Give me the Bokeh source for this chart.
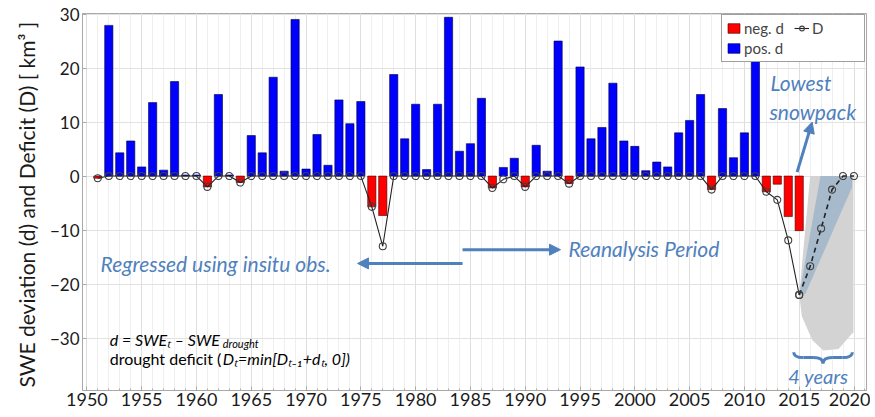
from bokeh.plotting import figure
from bokeh.models import (Range1d, SingleIntervalTicker, Label, Arrow, NormalHead,
                          Legend, LegendItem, ColumnDataSource)
from bokeh.embed import file_html
from bokeh.resources import INLINE

# ---------------- data ----------------
years = list(range(1951, 2016))
d_values = [-0.4, 27.9, 4.3, 6.5, 1.7, 13.6, 1.1, 17.5, 0.2, 0.2,    # 1951-1960
            -2.0, 15.1, 0.2, -1.2, 7.5, 4.3, 18.3, 0.9, 29.0, 1.3,   # 1961-1970
            7.7, 2.0, 14.1, 9.7, 13.8, -5.7, -7.3, 18.8, 6.9, 13.3,  # 1971-1980
            1.2, 13.3, 29.4, 4.6, 6.0, 14.4, -2.2, 1.6, 3.3, -2.0,   # 1981-1990
            5.7, 0.9, 25.0, -1.4, 20.2, 6.9, 9.0, 17.2, 6.5, 5.5,    # 1991-2000
            1.0, 2.6, 1.7, 8.0, 10.3, 15.1, -2.5, 12.5, 3.4, 8.0,    # 2001-2010
            21.7, -2.9, -1.5, -7.5, -10.1]                           # 2011-2015
D_values = [-0.4, 0, 0, 0, 0, 0, 0, 0, 0, 0,
            -2.0, 0, 0, -1.2, 0, 0, 0, 0, 0, 0,
            0, 0, 0, 0, 0, -5.7, -13.0, 0, 0, 0,
            0, 0, 0, 0, 0, 0, -2.2, -0.6, 0, -2.0,
            0, 0, 0, -1.4, 0, 0, 0, 0, 0, 0,
            0, 0, 0, 0, 0, 0, -2.5, 0, 0, 0,
            0, -2.9, -4.4, -11.9, -22.0]
proj_years = [2015, 2016, 2017, 2018, 2019, 2020]
proj_D = [-22.0, -16.7, -9.7, -2.5, 0, 0]

gray_x = [2016.0, 2015.0, 2015.25, 2016.2, 2017.2, 2018.6, 2019.8, 2019.95, 2019.95]
gray_y = [0, -22.0, -26.0, -30.4, -32.3, -32.0, -29.2, -29.0, 0]
blue_x = [2015.0, 2016.94, 2019.83, 2019.83, 2015.57]
blue_y = [-22.1, 0, 0, -2.0, -21.8]

x_tick_interval = 5
y_tick_interval = 10

ANN = "#4F81BD"
FONT = "Lato"

neg = ColumnDataSource(dict(x=[y for y, v in zip(years, d_values) if v < 0],
                            top=[v for v in d_values if v < 0]))
pos = ColumnDataSource(dict(x=[y for y, v in zip(years, d_values) if v >= 0],
                            top=[v for v in d_values if v >= 0]))

p = figure(width=870, height=416, x_range=Range1d(1949.6, 2021.14),
           y_range=Range1d(-39.7, 30.1), output_backend="svg", toolbar_location=None,
           min_border_left=82, min_border_right=4, min_border_top=13, min_border_bottom=26)
p.background_fill_color = "white"
p.border_fill_color = "white"
p.outline_line_color = "#a8a8a8"

xax = p.below[0]
yax = p.left[0]

xt = SingleIntervalTicker(interval=x_tick_interval, num_minor_ticks=5)
yt = SingleIntervalTicker(interval=y_tick_interval, num_minor_ticks=0)
xax.ticker = xt
yax.ticker = yt
p.xgrid.ticker = xt
p.ygrid.ticker = yt
p.xgrid.grid_line_color = "#dedede"
p.xgrid.minor_grid_line_color = "#efefef"
p.ygrid.grid_line_color = "#e2e2e2"

for ax in (xax, yax):
    ax.axis_line_color = "#a8a8a8"
    ax.major_tick_line_color = "#a8a8a8"
    ax.minor_tick_line_color = "#a8a8a8"
    ax.major_tick_in = 4
    ax.major_tick_out = 0
    ax.minor_tick_in = 2
    ax.minor_tick_out = 0
    ax.major_label_text_font = FONT
    ax.major_label_text_color = "#1a1a1a"
xax.major_label_text_font_size = "18px"
xax.major_label_standoff = 2
yax.major_label_text_font_size = "17px"
yax.major_label_standoff = 3
yax.axis_label = "SWE deviation (d) and Deficit (D)  [ km³ ]"
yax.axis_label_text_font = FONT
yax.axis_label_text_font_style = "normal"
yax.axis_label_text_font_size = "21px"
yax.axis_label_text_color = "#1a1a1a"
yax.axis_label_standoff = 8

# projection envelopes
p.patch(gray_x, gray_y, fill_color="#d3d3d3", line_color=None)
p.patch(blue_x, blue_y, fill_color="#6f9cc4", fill_alpha=0.45, line_color=None)

# bars
r_neg = p.vbar(x="x", top="top", bottom=0, width=0.75, source=neg,
               fill_color="#ff0000", line_color="#400000", line_width=0.6)
r_pos = p.vbar(x="x", top="top", bottom=0, width=0.75, source=pos,
               fill_color="#0000ff", line_color="#000040", line_width=0.6)

# deficit
r_line = p.line(years, D_values, line_color="#222222", line_width=1.1)
r_circ = p.scatter(years, D_values, marker="circle", size=7, fill_alpha=0,
                   line_color="#404040", line_width=1.1)
p.line(proj_years, proj_D, line_color="#222222", line_width=1.6, line_dash="5 4")
p.scatter(proj_years, proj_D, marker="circle", size=7, fill_alpha=0,
          line_color="#404040", line_width=1.1)

legend = Legend(items=[LegendItem(label="neg. d", renderers=[r_neg]),
                       LegendItem(label="pos. d", renderers=[r_pos]),
                       LegendItem(label="D", renderers=[r_line, r_circ])],
                location="top_right", nrows=2)
legend.label_text_font = FONT
legend.label_text_font_size = "15px"
legend.label_text_line_height = 1.0
legend.glyph_height = 12
legend.glyph_width = 15
legend.label_height = 14
legend.label_width = 48
legend.label_standoff = 3
legend.spacing = 2
legend.padding = 4
legend.margin = 1
legend.border_line_color = "#404040"
legend.background_fill_alpha = 1
p.add_layout(legend)

# annotations
def lab(x, y, text, size, color=ANN, style="italic"):
    p.add_layout(Label(x=x, y=y, text=text, text_font=FONT, text_font_size=size,
                       text_font_style=style, text_color=color, text_baseline="middle"))

lab(2012.38, 17.4, "Lowest", "21px")
lab(2012.28, 12.0, "snowpack", "21px")
lab(1993.95, -13.4, "Reanalysis Period", "21px")
lab(1951.25, -16.2, "Regressed using insitu obs.", "21px")
lab(2014.0, -37.1, "4 years", "20px")

head = dict(size=11, fill_color=ANN, line_color=ANN)
p.add_layout(Arrow(end=NormalHead(**head), x_start=2014.81, y_start=0.74,
                   x_end=2016.18, y_end=10.0, line_color=ANN, line_width=3))
p.add_layout(Arrow(end=NormalHead(**head), x_start=1984.28, y_start=-16.17,
                   x_end=1974.7, y_end=-16.17, line_color=ANN, line_width=3))
p.add_layout(Arrow(end=NormalHead(**head), x_start=1984.28, y_start=-13.63,
                   x_end=1993.22, y_end=-13.63, line_color=ANN, line_width=3))

# curly brace under the 4 recovery years
xL, xR, xc, a = 2014.5, 2019.85, 2017.17, 0.9
yT, yM, yB = -32.6, -33.6, -34.7
p.quadratic(x0=[xL, xc - a, xc, xR - a], y0=[yT, yM, yB, yM],
            x1=[xL + a, xc, xc + a, xR], y1=[yM, yB, yM, yT],
            cx=[xL, xc, xc, xR], cy=[yM, yM, yM, yM], line_color=ANN, line_width=3)
p.segment(x0=[xL + a, xc + a], y0=[yM, yM], x1=[xc - a, xR - a], y1=[yM, yM],
          line_color=ANN, line_width=3)

# formula text
BL = "#000000"
lab(1952.09, -30.24, "d = SWEₜ – SWE", "16px", BL)
lab(1962.4, -31.0, "drought", "11px", BL)
lab(1952.09, -33.76, "drought deficit (", "16px", BL, "normal")
lab(1962.4, -33.76, "Dₜ=min[Dₜ₋₁+dₜ, 0])", "16px", BL)

open("out.html", "w").write(file_html(p, INLINE))
